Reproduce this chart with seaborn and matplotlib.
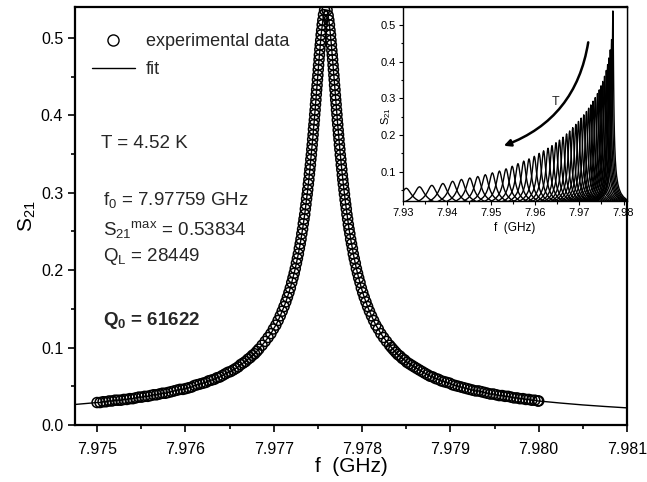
import numpy as np
import pandas as pd
import matplotlib
matplotlib.use("Agg")
import matplotlib.pyplot as plt
import seaborn as sns
from matplotlib.lines import Line2D
from matplotlib.ticker import MultipleLocator, FormatStrFormatter

# ===============================
# 1. Data
# ===============================
# main panel: measured S21 at T = 4.52 K
data_f = [
    7.975000, 7.975034, 7.975068, 7.975101, 7.975135, 7.975169, 7.975203, 7.975236, 7.975270, 7.975304, 7.975337, 7.975371, 7.975405,
    7.975438, 7.975472, 7.975505, 7.975539, 7.975573, 7.975606, 7.975640, 7.975673, 7.975706, 7.975740, 7.975773, 7.975806, 7.975840,
    7.975873, 7.975906, 7.975939, 7.975972, 7.976005, 7.976037, 7.976070, 7.976103, 7.976135, 7.976168, 7.976200, 7.976232, 7.976264,
    7.976296, 7.976327, 7.976359, 7.976390, 7.976420, 7.976451, 7.976481, 7.976511, 7.976541, 7.976570, 7.976598, 7.976626, 7.976654,
    7.976681, 7.976708, 7.976734, 7.976759, 7.976784, 7.976808, 7.976831, 7.976868, 7.976903, 7.976936, 7.976968, 7.976997, 7.977024,
    7.977050, 7.977074, 7.977096, 7.977117, 7.977137, 7.977155, 7.977172, 7.977188, 7.977204, 7.977218, 7.977232, 7.977244, 7.977257,
    7.977268, 7.977279, 7.977290, 7.977300, 7.977309, 7.977318, 7.977327, 7.977335, 7.977343, 7.977351, 7.977358, 7.977365, 7.977372,
    7.977379, 7.977385, 7.977392, 7.977398, 7.977404, 7.977409, 7.977415, 7.977420, 7.977426, 7.977431, 7.977436, 7.977441, 7.977446,
    7.977450, 7.977455, 7.977460, 7.977464, 7.977469, 7.977473, 7.977478, 7.977482, 7.977486, 7.977491, 7.977495, 7.977500, 7.977504,
    7.977508, 7.977513, 7.977517, 7.977522, 7.977527, 7.977532, 7.977537, 7.977543, 7.977549, 7.977556, 7.977564, 7.977576, 7.977604,
    7.977616, 7.977624, 7.977631, 7.977637, 7.977643, 7.977648, 7.977653, 7.977658, 7.977663, 7.977667, 7.977672, 7.977676, 7.977681,
    7.977685, 7.977689, 7.977694, 7.977698, 7.977702, 7.977707, 7.977711, 7.977716, 7.977720, 7.977725, 7.977730, 7.977734, 7.977739,
    7.977744, 7.977749, 7.977754, 7.977760, 7.977765, 7.977771, 7.977777, 7.977782, 7.977788, 7.977795, 7.977801, 7.977808, 7.977815,
    7.977822, 7.977829, 7.977837, 7.977845, 7.977853, 7.977862, 7.977871, 7.977881, 7.977891, 7.977901, 7.977912, 7.977924, 7.977936,
    7.977949, 7.977962, 7.977977, 7.977992, 7.978008, 7.978025, 7.978044, 7.978063, 7.978084, 7.978107, 7.978131, 7.978156, 7.978184,
    7.978213, 7.978244, 7.978277, 7.978312, 7.978334, 7.978357, 7.978381, 7.978405, 7.978430, 7.978455, 7.978482, 7.978508, 7.978536,
    7.978564, 7.978592, 7.978621, 7.978650, 7.978680, 7.978710, 7.978740, 7.978771, 7.978801, 7.978833, 7.978864, 7.978896, 7.978927,
    7.978959, 7.978992, 7.979024, 7.979056, 7.979089, 7.979122, 7.979154, 7.979187, 7.979220, 7.979253, 7.979286, 7.979319, 7.979352,
    7.979386, 7.979419, 7.979452, 7.979486, 7.979519, 7.979553, 7.979586, 7.979620, 7.979653, 7.979687, 7.979720, 7.979754, 7.979787,
    7.979821, 7.979855, 7.979888, 7.979922, 7.979956, 7.979990, 7.980000,
]
data_s21 = [
    0.029, 0.029, 0.030, 0.030, 0.031, 0.031, 0.032, 0.032, 0.032, 0.033, 0.033, 0.034, 0.034, 0.035, 0.036, 0.036, 0.037, 0.037, 0.038, 0.039,
    0.039, 0.040, 0.041, 0.041, 0.042, 0.043, 0.044, 0.045, 0.046, 0.046, 0.047, 0.048, 0.049, 0.051, 0.052, 0.053, 0.054, 0.055, 0.057, 0.058,
    0.059, 0.061, 0.062, 0.064, 0.066, 0.068, 0.069, 0.071, 0.073, 0.075, 0.078, 0.080, 0.082, 0.085, 0.087, 0.090, 0.092, 0.095, 0.098, 0.103,
    0.108, 0.113, 0.118, 0.124, 0.129, 0.135, 0.141, 0.147, 0.153, 0.159, 0.165, 0.171, 0.177, 0.184, 0.190, 0.196, 0.202, 0.209, 0.215, 0.221,
    0.228, 0.234, 0.240, 0.247, 0.253, 0.260, 0.266, 0.272, 0.279, 0.285, 0.292, 0.298, 0.304, 0.311, 0.317, 0.324, 0.330, 0.336, 0.343, 0.349,
    0.356, 0.362, 0.369, 0.375, 0.382, 0.388, 0.394, 0.401, 0.407, 0.414, 0.420, 0.427, 0.433, 0.439, 0.446, 0.452, 0.459, 0.465, 0.472, 0.478,
    0.485, 0.491, 0.497, 0.504, 0.510, 0.517, 0.523, 0.530, 0.536, 0.536, 0.529, 0.523, 0.517, 0.510, 0.504, 0.497, 0.491, 0.484, 0.478, 0.472,
    0.465, 0.459, 0.452, 0.446, 0.439, 0.433, 0.426, 0.420, 0.414, 0.407, 0.401, 0.394, 0.388, 0.381, 0.375, 0.369, 0.362, 0.356, 0.349, 0.343,
    0.336, 0.330, 0.323, 0.317, 0.311, 0.304, 0.298, 0.291, 0.285, 0.279, 0.272, 0.266, 0.259, 0.253, 0.247, 0.240, 0.234, 0.228, 0.221, 0.215,
    0.209, 0.202, 0.196, 0.190, 0.184, 0.177, 0.171, 0.165, 0.159, 0.153, 0.147, 0.141, 0.135, 0.129, 0.124, 0.118, 0.113, 0.108, 0.103, 0.100,
    0.097, 0.094, 0.091, 0.089, 0.086, 0.084, 0.081, 0.079, 0.077, 0.075, 0.073, 0.071, 0.069, 0.067, 0.065, 0.063, 0.062, 0.060, 0.059, 0.057,
    0.056, 0.055, 0.054, 0.052, 0.051, 0.050, 0.049, 0.048, 0.047, 0.046, 0.045, 0.044, 0.044, 0.043, 0.042, 0.041, 0.040, 0.040, 0.039, 0.038,
    0.038, 0.037, 0.037, 0.036, 0.035, 0.035, 0.034, 0.034, 0.033, 0.033, 0.032, 0.032, 0.031, 0.031,
]
# fit curve runs past the measured span on both sides
fit_left_f = [7.97475, 7.97488]
fit_left_s21 = [0.0265, 0.0278]
fit_right_f = [7.98025, 7.9805, 7.98075, 7.981]
fit_right_s21 = [0.0283, 0.0259, 0.0239, 0.0221]

# inset: resonances at increasing temperature (peak position, height, half width)
peak_f = [7.9308, 7.9338, 7.9366, 7.9391, 7.9413, 7.9433, 7.9452, 7.9470, 7.9487, 7.9503,
          7.9519, 7.9534, 7.9548, 7.9561, 7.9574, 7.9586, 7.9598, 7.9609, 7.9619, 7.9629,
          7.9638, 7.9647, 7.9655, 7.9663, 7.9671, 7.9678, 7.9685, 7.9692, 7.9698, 7.9704,
          7.9710, 7.9716, 7.9721, 7.9726, 7.9731, 7.9736, 7.9741, 7.9745, 7.9749, 7.9753,
          7.9757, 7.9761, 7.9764, 7.9767, 7.9770, 7.9773, 7.97759]
peak_s21 = [0.055, 0.059, 0.063, 0.068, 0.074, 0.079, 0.083, 0.087, 0.092, 0.097,
            0.102, 0.108, 0.115, 0.122, 0.129, 0.135, 0.142, 0.150, 0.157, 0.164,
            0.171, 0.179, 0.186, 0.194, 0.203, 0.211, 0.220, 0.229, 0.237, 0.246,
            0.255, 0.264, 0.273, 0.282, 0.292, 0.302, 0.313, 0.323, 0.334, 0.346,
            0.360, 0.376, 0.392, 0.410, 0.432, 0.460, 0.538]
half_width_mhz = [1.143, 1.071, 1.009, 0.940, 0.870, 0.819, 0.783, 0.750, 0.712, 0.678,
                  0.647, 0.614, 0.580, 0.549, 0.522, 0.500, 0.478, 0.454, 0.435, 0.418,
                  0.403, 0.386, 0.372, 0.358, 0.344, 0.332, 0.319, 0.308, 0.298, 0.288,
                  0.279, 0.270, 0.262, 0.254, 0.246, 0.238, 0.231, 0.224, 0.217, 0.210,
                  0.203, 0.195, 0.188, 0.180, 0.172, 0.162, 0.140]
# common line shape: detuning (in half widths) and relative height
shape_x = [-30, -22, -17, -13, -10, -8, -6, -5, -4, -3, -2.5, -2, -1.6, -1.3, -1,
           -0.75, -0.5, -0.25, 0, 0.25, 0.5, 0.75, 1, 1.3, 1.6, 2, 2.5, 3, 4, 5,
           6, 8, 10, 13, 17, 22, 30]
shape_rel = [0.0333, 0.0454, 0.0587, 0.0767, 0.0995, 0.1240, 0.1644, 0.1961, 0.2425,
             0.3162, 0.3714, 0.4472, 0.5300, 0.6097, 0.7071, 0.8000, 0.8944, 0.9701,
             1.0, 0.9701, 0.8944, 0.8000, 0.7071, 0.6097, 0.5300, 0.4472, 0.3714,
             0.3162, 0.2425, 0.1961, 0.1644, 0.1240, 0.0995, 0.0767, 0.0587, 0.0454,
             0.0333]

# ===============================
# 2. Style
# ===============================
sns.set_theme(style="ticks")
plt.rcParams["font.family"] = ["Liberation Sans", "DejaVu Sans"]
plt.rcParams["mathtext.fontset"] = "custom"
plt.rcParams["mathtext.rm"] = "Liberation Sans"
plt.rcParams["mathtext.it"] = "Liberation Sans"
plt.rcParams["mathtext.bf"] = "Liberation Sans:bold"

fig = plt.figure(figsize=(6.47, 4.82), dpi=100)
ax = fig.add_axes([0.1159, 0.1183, 0.8532, 0.8672])

# ===============================
# 3. Main panel
# ===============================
fit_f = fit_left_f + data_f + fit_right_f
fit_s21 = fit_left_s21 + data_s21 + fit_right_s21
sns.lineplot(x=fit_f, y=fit_s21, color="black", lw=1.0, sort=False, ax=ax, zorder=2)
sns.scatterplot(x=data_f, y=data_s21, marker="o", s=52, facecolors="none",
                edgecolors="black", linewidth=1.1, ax=ax, zorder=3)

ax.set_xlim(7.97475, 7.981)
ax.set_ylim(0, 0.54)
ax.xaxis.set_major_locator(MultipleLocator(0.001))
ax.xaxis.set_minor_locator(MultipleLocator(0.0005))
ax.xaxis.set_major_formatter(FormatStrFormatter("%.3f"))
ax.yaxis.set_major_locator(MultipleLocator(0.1))
ax.yaxis.set_minor_locator(MultipleLocator(0.05))
ax.yaxis.set_major_formatter(FormatStrFormatter("%.1f"))
ax.tick_params(which="both", direction="out", top=False, right=False,
               labelsize=11.5, width=1.2, color="black", labelcolor="black")
ax.tick_params(axis="x", which="major", pad=7)
ax.tick_params(which="major", length=5)
ax.tick_params(which="minor", length=3)
for sp in ax.spines.values():
    sp.set_linewidth(1.6)
    sp.set_color("black")
ax.set_xlabel("f  (GHz)", fontsize=15, color="black", labelpad=0)
ax.set_ylabel("S$_{21}$", fontsize=15, color="black", labelpad=2)

handles = [Line2D([], [], marker="o", ls="none", mfc="none", mec="black", ms=8, mew=1.0),
           Line2D([], [], color="black", lw=1.0)]
ax.legend(handles, ["experimental data", "fit"], loc="upper left",
          bbox_to_anchor=(0.03, 0.937), frameon=False, fontsize=13,
          handlelength=2.4, handletextpad=0.6, labelspacing=0.6,
          borderaxespad=0, borderpad=0)

ax.text(0.048, 0.674, "T = 4.52 K", transform=ax.transAxes, fontsize=13.5, va="center")
ax.text(0.051, 0.538, "f$_0$ = 7.97759 GHz", transform=ax.transAxes, fontsize=13.5, va="center")
ax.text(0.051, 0.4665, "S$_{21}{}^{\\mathrm{max}}$ = 0.53834", transform=ax.transAxes,
        fontsize=13.5, va="center")
ax.text(0.051, 0.402, "Q$_\\mathrm{L}$ = 28449", transform=ax.transAxes, fontsize=13.5, va="center")
ax.text(0.051, 0.251, "$\\mathbf{Q}_\\mathbf{0}$ = 61622", transform=ax.transAxes,
        fontsize=13.5, fontweight="bold", va="center")

# ===============================
# 4. Inset
# ===============================
rows = []
for i in range(len(peak_f)):
    for x, r in zip(shape_x, shape_rel):
        rows.append({"f": peak_f[i] + x * half_width_mhz[i] * 1e-3,
                     "S21": peak_s21[i] * r, "curve": i})
inset_df = pd.DataFrame(rows)

axin = fig.add_axes([0.6224, 0.583, 0.3468, 0.4025])
sns.lineplot(data=inset_df, x="f", y="S21", units="curve", estimator=None,
             color="black", lw=1.0, sort=False, ax=axin)
axin.set_xlim(7.93, 7.9808)
axin.set_ylim(0.0202, 0.5488)
axin.xaxis.set_major_locator(MultipleLocator(0.01))
axin.xaxis.set_minor_locator(MultipleLocator(0.005))
axin.xaxis.set_major_formatter(FormatStrFormatter("%.2f"))
axin.yaxis.set_major_locator(MultipleLocator(0.1))
axin.yaxis.set_minor_locator(MultipleLocator(0.05))
axin.yaxis.set_major_formatter(FormatStrFormatter("%.1f"))
axin.tick_params(which="both", direction="out", top=False, right=False,
                 labelsize=8, width=0.8, color="black", labelcolor="black", pad=2)
axin.tick_params(which="major", length=3)
axin.tick_params(which="minor", length=1.8)
for sp in axin.spines.values():
    sp.set_linewidth(1.0)
    sp.set_color("black")
axin.set_xlabel("f  (GHz)", fontsize=8.5, color="black", labelpad=3)
axin.set_ylabel("S$_{21}$", fontsize=8, color="black")
axin.yaxis.set_label_coords(-0.045, 0.44)

axin.annotate("", xy=(7.9523, 0.168), xytext=(7.9721, 0.46),
              arrowprops=dict(arrowstyle="-|>", connectionstyle="arc3,rad=-0.3",
                              color="black", lw=1.8, mutation_scale=10))
axin.text(7.9645, 0.29, "T", fontsize=9, ha="center", va="center")

fig.savefig("out.png", dpi=100)
